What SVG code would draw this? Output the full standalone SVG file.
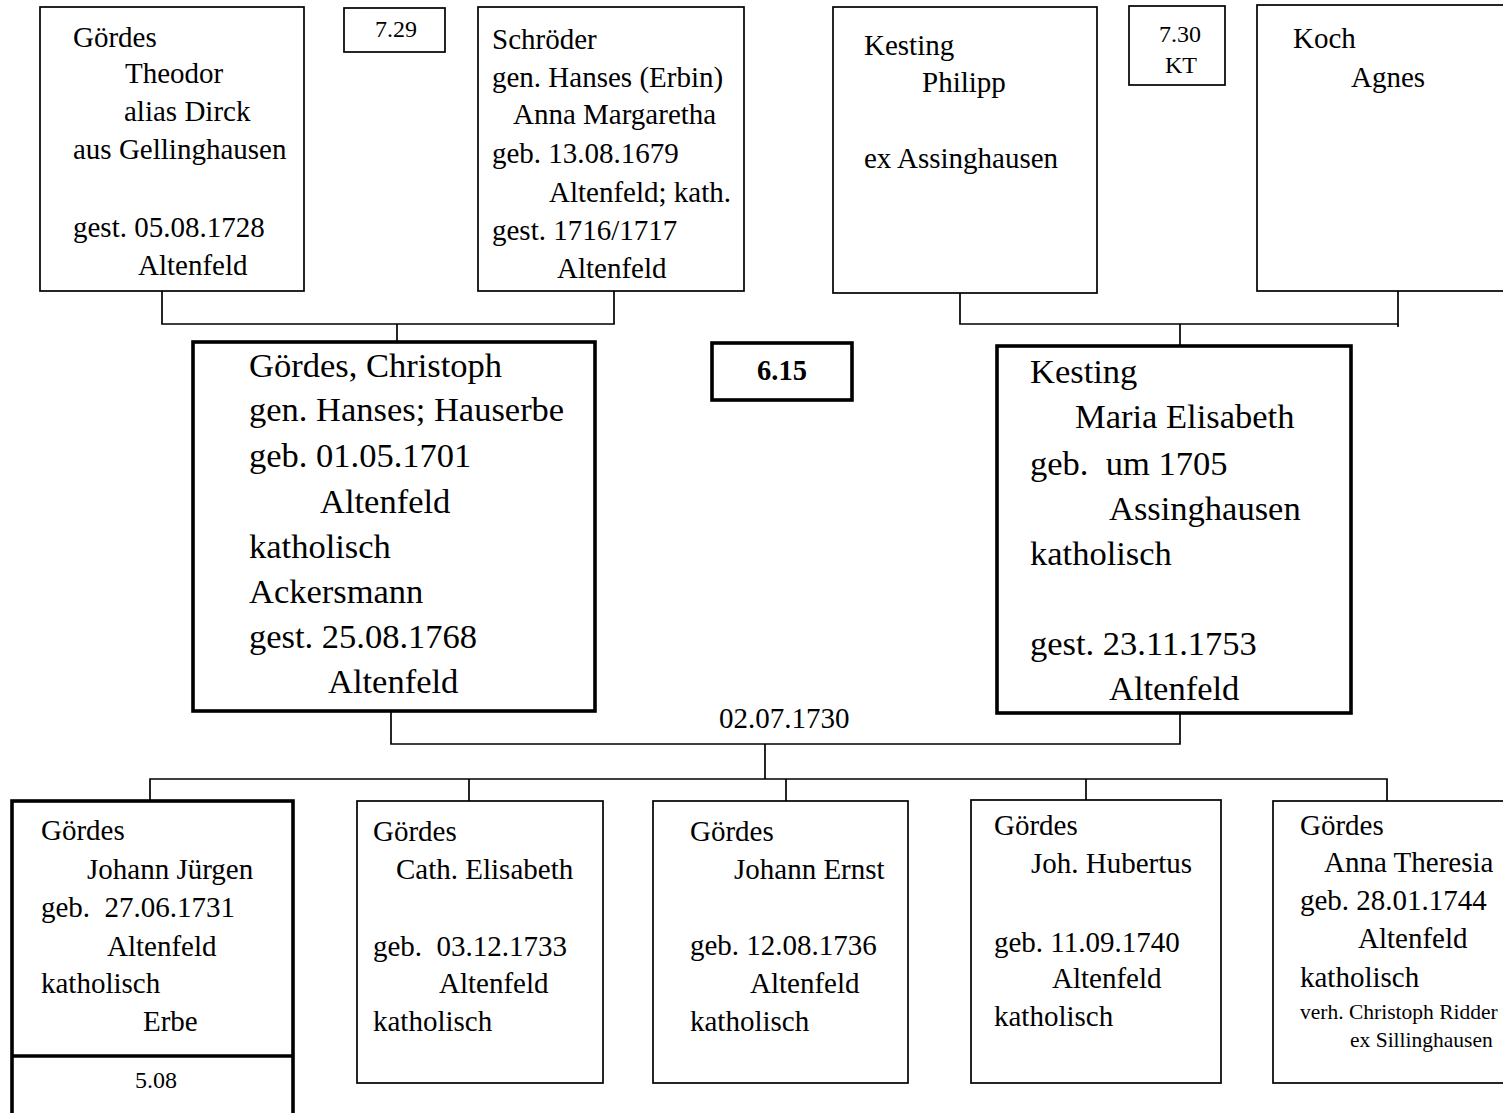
<svg xmlns="http://www.w3.org/2000/svg" width="1503" height="1113" viewBox="0 0 1503 1113">
  <style>
    text { font-family: "Liberation Serif", "Times New Roman", serif; fill: #000; white-space: pre; }
    .t { font-size: 29px; }
    .big { font-size: 34.5px; }
    .sm { font-size: 24px; }
    .xs { font-size: 21.5px; }
    .bold { font-size: 28.5px; font-weight: bold; }
    .box { fill: #fff; stroke: #000; stroke-width: 1.7; }
    .thick { fill: #fff; stroke: #000; stroke-width: 3.6; }
    .line { fill: none; stroke: #000; stroke-width: 1.7; }
  </style>
  <rect width="1503" height="1113" fill="#fff"/>

  <!-- connectors -->
  <g id="connectors">
    <path class="line" d="M162,291 V324 H614 V291"/>
    <path class="line" d="M397,324 V342"/>
    <path class="line" d="M960,293 V324 H1398 V291"/>
    <path class="line" d="M1398,324 V327"/>
    <path class="line" d="M1180,324 V346"/>
    <path class="line" d="M391,711 V744 H1180 V713"/>
    <path class="line" d="M765,744 V779"/>
    <path class="line" d="M150,801 V779 H1387 V801"/>
    <path class="line" d="M469,779 V801"/>
    <path class="line" d="M786,779 V801"/>
    <path class="line" d="M1086,779 V801"/>
  </g>

  <!-- grandparents, paternal side -->
  <g id="goerdes-theodor">
    <rect class="box" x="40" y="7" width="264" height="284"/>
    <text class="t" x="73" y="47">Gördes</text>
    <text class="t" x="125" y="83">Theodor</text>
    <text class="t" x="124" y="121">alias Dirck</text>
    <text class="t" x="73" y="159">aus Gellinghausen</text>
    <text class="t" x="73" y="237">gest. 05.08.1728</text>
    <text class="t" x="138" y="275">Altenfeld</text>
  </g>

  <g id="ref-729">
    <rect class="box" x="344" y="8" width="101" height="44"/>
    <text class="sm" x="375" y="37">7.29</text>
  </g>

  <g id="schroeder-anna-margaretha">
    <rect class="box" x="478" y="7" width="266" height="284"/>
    <text class="t" x="492" y="49">Schröder</text>
    <text class="t" x="492" y="87">gen. Hanses (Erbin)</text>
    <text class="t" x="513" y="124">Anna Margaretha</text>
    <text class="t" x="492" y="163">geb. 13.08.1679</text>
    <text class="t" x="549" y="202">Altenfeld; kath.</text>
    <text class="t" x="492" y="240">gest. 1716/1717</text>
    <text class="t" x="557" y="278">Altenfeld</text>
  </g>

  <!-- grandparents, maternal side -->
  <g id="kesting-philipp">
    <rect class="box" x="833" y="7" width="264" height="286"/>
    <text class="t" x="864" y="55">Kesting</text>
    <text class="t" x="922" y="92">Philipp</text>
    <text class="t" x="864" y="168">ex Assinghausen</text>
  </g>

  <g id="ref-730">
    <rect class="box" x="1129" y="6" width="96" height="79"/>
    <text class="sm" x="1159" y="42">7.30</text>
    <text class="sm" x="1165" y="73">KT</text>
  </g>

  <g id="koch-agnes">
    <rect class="box" x="1257" y="5" width="260" height="286"/>
    <text class="t" x="1293" y="48">Koch</text>
    <text class="t" x="1351" y="87">Agnes</text>
  </g>

  <!-- parents -->
  <g id="goerdes-christoph">
    <rect class="thick" x="193" y="342" width="402" height="369"/>
    <text class="big" x="249" y="377">Gördes, Christoph</text>
    <text class="big" x="249" y="421">gen. Hanses; Hauserbe</text>
    <text class="big" x="249" y="467">geb. 01.05.1701</text>
    <text class="big" x="320" y="513">Altenfeld</text>
    <text class="big" x="249" y="558">katholisch</text>
    <text class="big" x="249" y="603">Ackersmann</text>
    <text class="big" x="249" y="648">gest. 25.08.1768</text>
    <text class="big" x="328" y="693">Altenfeld</text>
  </g>

  <g id="ref-615">
    <rect class="thick" x="712" y="343" width="140" height="57"/>
    <text class="bold" x="782" y="380" text-anchor="middle">6.15</text>
  </g>

  <g id="kesting-maria-elisabeth">
    <rect class="thick" x="997" y="346" width="354" height="367"/>
    <text class="big" x="1030" y="383">Kesting</text>
    <text class="big" x="1075" y="428">Maria Elisabeth</text>
    <text class="big" x="1030" y="475">geb.  um 1705</text>
    <text class="big" x="1109" y="520">Assinghausen</text>
    <text class="big" x="1030" y="565">katholisch</text>
    <text class="big" x="1030" y="655">gest. 23.11.1753</text>
    <text class="big" x="1109" y="700">Altenfeld</text>
  </g>

  <g id="marriage-date">
    <text class="t" x="719" y="728">02.07.1730</text>
  </g>

  <!-- children -->
  <g id="goerdes-johann-juergen">
    <rect class="thick" x="12" y="801" width="281" height="330"/>
    <path class="thick" d="M12,1056 H293"/>
    <text class="t" x="41" y="840">Gördes</text>
    <text class="t" x="87" y="879">Johann Jürgen</text>
    <text class="t" x="41" y="917">geb.  27.06.1731</text>
    <text class="t" x="107" y="956">Altenfeld</text>
    <text class="t" x="41" y="993">katholisch</text>
    <text class="t" x="143" y="1031">Erbe</text>
    <text class="sm" x="135" y="1088">5.08</text>
  </g>

  <g id="goerdes-cath-elisabeth">
    <rect class="box" x="357" y="801" width="246" height="282"/>
    <text class="t" x="373" y="841">Gördes</text>
    <text class="t" x="396" y="879">Cath. Elisabeth</text>
    <text class="t" x="373" y="956">geb.  03.12.1733</text>
    <text class="t" x="439" y="993">Altenfeld</text>
    <text class="t" x="373" y="1031">katholisch</text>
  </g>

  <g id="goerdes-johann-ernst">
    <rect class="box" x="653" y="801" width="255" height="282"/>
    <text class="t" x="690" y="841">Gördes</text>
    <text class="t" x="734" y="879">Johann Ernst</text>
    <text class="t" x="690" y="955">geb. 12.08.1736</text>
    <text class="t" x="750" y="993">Altenfeld</text>
    <text class="t" x="690" y="1031">katholisch</text>
  </g>

  <g id="goerdes-joh-hubertus">
    <rect class="box" x="971" y="800" width="250" height="283"/>
    <text class="t" x="994" y="835">Gördes</text>
    <text class="t" x="1031" y="873">Joh. Hubertus</text>
    <text class="t" x="994" y="952">geb. 11.09.1740</text>
    <text class="t" x="1052" y="988">Altenfeld</text>
    <text class="t" x="994" y="1026">katholisch</text>
  </g>

  <g id="goerdes-anna-theresia">
    <rect class="box" x="1273" y="801" width="250" height="282"/>
    <text class="t" x="1300" y="835">Gördes</text>
    <text class="t" x="1324" y="872">Anna Theresia</text>
    <text class="t" x="1300" y="910">geb. 28.01.1744</text>
    <text class="t" x="1358" y="948">Altenfeld</text>
    <text class="t" x="1300" y="987">katholisch</text>
    <text class="xs" x="1300" y="1019">verh. Christoph Ridder</text>
    <text class="xs" x="1350" y="1047">ex Sillinghausen</text>
  </g>
</svg>
